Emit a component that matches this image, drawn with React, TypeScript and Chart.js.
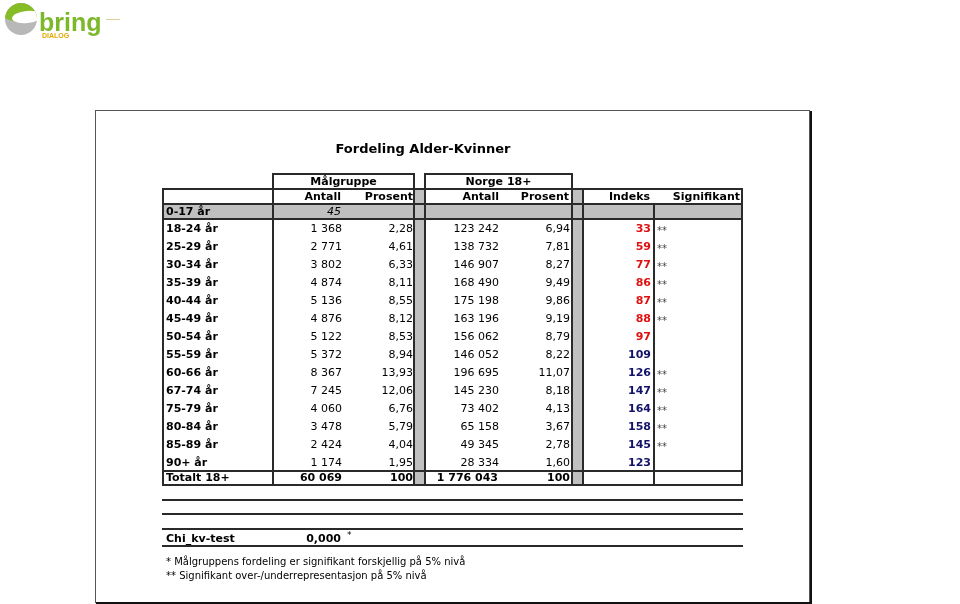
import React, { useEffect, useRef } from 'react';
import { Chart, registerables } from 'chart.js';

Chart.register(...registerables);

// ---------- data ----------
const TITLE = 'Fordeling Alder-Kvinner';
const GROUP_HEADERS = ['Målgruppe', 'Norge 18+'];
const COLUMN_HEADERS = ['Antall', 'Prosent', 'Antall', 'Prosent', 'Indeks', 'Signifikant'];
const AGE_GROUPS = ['18-24 år', '25-29 år', '30-34 år', '35-39 år', '40-44 år', '45-49 år', '50-54 år', '55-59 år', '60-66 år', '67-74 år', '75-79 år', '80-84 år', '85-89 år', '90+ år'];
const MAL_ANTALL = [1368, 2771, 3802, 4874, 5136, 4876, 5122, 5372, 8367, 7245, 4060, 3478, 2424, 1174];
const MAL_PROSENT = [2.28, 4.61, 6.33, 8.11, 8.55, 8.12, 8.53, 8.94, 13.93, 12.06, 6.76, 5.79, 4.04, 1.95];
const NORGE_ANTALL = [123242, 138732, 146907, 168490, 175198, 163196, 156062, 146052, 196695, 145230, 73402, 65158, 49345, 28334];
const NORGE_PROSENT = [6.94, 7.81, 8.27, 9.49, 9.86, 9.19, 8.79, 8.22, 11.07, 8.18, 4.13, 3.67, 2.78, 1.6];
const INDEKS = [33, 59, 77, 86, 87, 88, 97, 109, 126, 147, 164, 158, 145, 123];
const SIGNIFIKANT = [true, true, true, true, true, true, false, false, true, true, true, true, true, false];
const UNDER18_LABEL = '0-17 år';
const UNDER18_ANTALL = 45;
const TOTAL_LABEL = 'Totalt 18+';
const TOTAL_MAL = [60069, 100];
const TOTAL_NORGE = [1776043, 100];
const CHI_LABEL = 'Chi_kv-test';
const CHI_VALUE = 0.0;
const FOOTNOTES = [
  '* Målgruppens fordeling er signifikant forskjellig på 5% nivå',
  '** Signifikant over-/underrepresentasjon på 5% nivå',
];

// ---------- formatting ----------
const fmtInt = (n: number) => String(Math.round(n)).replace(/\B(?=(\d{3})+(?!\d))/g, ' ');
const fmtDec = (n: number, d = 2) => n.toFixed(d).replace('.', ',');

// ---------- layout / style ----------
const FONT = '"DejaVu Sans", Verdana, sans-serif';
const RED = '#e01010';
const NAVY = '#12126a';
const GRAY = '#c0c0c0';
const LINE = '#2a2a2a';

const COL_X = { label: 166, malAntall: 342, malProsent: 413, norgeAntall: 499, norgeProsent: 570, indeks: 651, sig: 657 };
const GRID = {
  left: 163, labelRight: 273, malRight: 414, norgeLeft: 425, norgeRight: 572, indeksLeft: 583, sigLeft: 654, right: 742,
  groupTop: 174, headTop: 189, grayTop: 204, grayBottom: 219, totalTop: 471, totalBottom: 485,
};
const EXTRA_LINES = [500, 514, 529, 546];

type CellCol = {
  label: string; x: number; texts: string[]; align: CanvasTextAlign; font: string;
  color: (i: number) => string; dy?: number; baseline?: CanvasTextBaseline;
};

const CELL_COLUMNS: CellCol[] = [
  { label: 'Alder', x: COL_X.label, texts: AGE_GROUPS, align: 'left', font: `bold 11px ${FONT}`, color: () => '#000' },
  { label: 'Målgruppe Antall', x: COL_X.malAntall, texts: MAL_ANTALL.map(fmtInt), align: 'right', font: `11px ${FONT}`, color: () => '#000' },
  { label: 'Målgruppe Prosent', x: COL_X.malProsent, texts: MAL_PROSENT.map((v) => fmtDec(v)), align: 'right', font: `11px ${FONT}`, color: () => '#000' },
  { label: 'Norge Antall', x: COL_X.norgeAntall, texts: NORGE_ANTALL.map(fmtInt), align: 'right', font: `11px ${FONT}`, color: () => '#000' },
  { label: 'Norge Prosent', x: COL_X.norgeProsent, texts: NORGE_PROSENT.map((v) => fmtDec(v)), align: 'right', font: `11px ${FONT}`, color: () => '#000' },
  { label: 'Indeks', x: COL_X.indeks, texts: INDEKS.map(String), align: 'right', font: `bold 11px ${FONT}`, color: (i) => (INDEKS[i] < 100 ? RED : NAVY) },
  { label: 'Signifikant', x: COL_X.sig, texts: SIGNIFIKANT.map((s) => (s ? '**' : '')), align: 'left', font: `10px ${FONT}`, color: () => '#444', dy: 4.5, baseline: 'alphabetic' },
];

function hline(ctx: CanvasRenderingContext2D, y: number, x1: number, x2: number, w = 2, c = LINE) {
  ctx.beginPath(); ctx.lineWidth = w; ctx.strokeStyle = c; ctx.moveTo(x1, y); ctx.lineTo(x2, y); ctx.stroke();
}
function vline(ctx: CanvasRenderingContext2D, x: number, y1: number, y2: number, w = 2, c = LINE) {
  ctx.beginPath(); ctx.lineWidth = w; ctx.strokeStyle = c; ctx.moveTo(x, y1); ctx.lineTo(x, y2); ctx.stroke();
}
function text(ctx: CanvasRenderingContext2D, s: string, x: number, y: number, font: string, align: CanvasTextAlign = 'left', color = '#000', baseline: CanvasTextBaseline = 'middle') {
  ctx.font = font; ctx.fillStyle = color; ctx.textAlign = align; ctx.textBaseline = baseline; ctx.fillText(s, x, y);
}

const tablePlugin = {
  id: 'tablePlugin',
  beforeDraw(chart: any) {
    const ctx: CanvasRenderingContext2D = chart.ctx;
    ctx.save();
    ctx.fillStyle = '#fff';
    ctx.fillRect(0, 0, chart.width, chart.height);

    // logo
    ctx.save();
    ctx.beginPath(); ctx.arc(21, 19, 16, 0, Math.PI * 2); ctx.fillStyle = '#b8b8b8'; ctx.fill();
    ctx.clip();
    ctx.beginPath(); ctx.ellipse(21, 9, 22, 13, 0, 0, Math.PI * 2); ctx.fillStyle = '#86bc25'; ctx.fill();
    ctx.beginPath(); ctx.ellipse(27, 17, 15, 6, -0.1, 0, Math.PI * 2); ctx.fillStyle = '#ffffff'; ctx.fill();
    ctx.restore();
    text(ctx, 'bring', 39, 31, `bold 25px "Liberation Sans", Arial, sans-serif`, 'left', '#7cb82a', 'alphabetic');
    text(ctx, 'DIALOG', 42, 38, `bold 7px "Liberation Sans", Arial, sans-serif`, 'left', '#e2a900', 'alphabetic');
    hline(ctx, 19.5, 106, 120, 1, '#d9cf9a');

    // outer frame
    ctx.beginPath(); ctx.lineWidth = 1; ctx.strokeStyle = '#555'; ctx.strokeRect(95.5, 110.5, 714, 492);
    vline(ctx, 811, 111, 604, 2, '#111');
    hline(ctx, 603, 96, 812, 2, '#111');

    // title
    text(ctx, TITLE, 423, 150, `bold 13px ${FONT}`, 'center');

    const yTop = chart.chartArea.top;
    // gray fills
    ctx.fillStyle = GRAY;
    ctx.fillRect(GRID.left, GRID.grayTop, GRID.right - GRID.left, GRID.grayBottom - GRID.grayTop);
    ctx.fillRect(GRID.malRight, GRID.headTop, GRID.norgeLeft - GRID.malRight, GRID.totalBottom - GRID.headTop);
    ctx.fillRect(GRID.norgeRight, GRID.headTop, GRID.indeksLeft - GRID.norgeRight, GRID.totalBottom - GRID.headTop);

    // horizontal lines
    hline(ctx, GRID.groupTop, GRID.labelRight - 1, GRID.malRight + 1);
    hline(ctx, GRID.groupTop, GRID.norgeLeft - 1, GRID.norgeRight + 1);
    hline(ctx, GRID.headTop, GRID.left - 1, GRID.right + 1);
    hline(ctx, GRID.grayTop, GRID.left - 1, GRID.right + 1);
    hline(ctx, yTop, GRID.left - 1, GRID.right + 1);
    hline(ctx, GRID.totalTop, GRID.left - 1, GRID.right + 1);
    hline(ctx, GRID.totalBottom, GRID.left - 1, GRID.right + 1);
    EXTRA_LINES.forEach((y) => hline(ctx, y, GRID.left - 1, GRID.right + 1));

    // vertical lines
    vline(ctx, GRID.left, GRID.headTop, GRID.totalBottom);
    vline(ctx, GRID.labelRight, GRID.groupTop, GRID.totalBottom);
    vline(ctx, GRID.malRight, GRID.groupTop, GRID.totalBottom);
    vline(ctx, GRID.norgeLeft, GRID.groupTop, GRID.totalBottom);
    vline(ctx, GRID.norgeRight, GRID.groupTop, GRID.totalBottom);
    vline(ctx, GRID.indeksLeft, GRID.headTop, GRID.totalBottom);
    vline(ctx, GRID.sigLeft, GRID.grayTop, GRID.totalBottom);
    vline(ctx, GRID.right, GRID.headTop, GRID.totalBottom);

    // headers
    const bold = `bold 11px ${FONT}`;
    text(ctx, GROUP_HEADERS[0], (GRID.labelRight + GRID.malRight) / 2, 182, bold, 'center');
    text(ctx, GROUP_HEADERS[1], (GRID.norgeLeft + GRID.norgeRight) / 2, 182, bold, 'center');
    const headX = [COL_X.malAntall - 1, COL_X.malProsent, COL_X.norgeAntall, COL_X.norgeProsent - 1, COL_X.indeks - 1, 740];
    COLUMN_HEADERS.forEach((h, i) => text(ctx, h, headX[i], 197, bold, 'right'));

    // 0-17 row
    text(ctx, UNDER18_LABEL, COL_X.label, 212, bold);
    text(ctx, String(UNDER18_ANTALL), COL_X.malAntall - 1, 212, `italic 11px ${FONT}`, 'right');

    // total row
    text(ctx, TOTAL_LABEL, COL_X.label, 478.5, bold);
    text(ctx, fmtInt(TOTAL_MAL[0]), COL_X.malAntall, 478.5, bold, 'right');
    text(ctx, fmtInt(TOTAL_MAL[1]), COL_X.malProsent, 478.5, bold, 'right');
    text(ctx, fmtInt(TOTAL_NORGE[0]), COL_X.norgeAntall - 1, 478.5, bold, 'right');
    text(ctx, fmtInt(TOTAL_NORGE[1]), COL_X.norgeProsent, 478.5, bold, 'right');

    // chi test
    text(ctx, CHI_LABEL, COL_X.label, 539, bold);
    text(ctx, fmtDec(CHI_VALUE, 3), 341, 539, bold, 'right');
    text(ctx, '*', 347, 538, `9px ${FONT}`, 'left', '#000', 'alphabetic');

    // footnotes
    FOOTNOTES.forEach((f, i) => text(ctx, f, COL_X.label, 562 + i * 14, `10px ${FONT}`));
    ctx.restore();
  },
  afterDatasetsDraw(chart: any) {
    const ctx: CanvasRenderingContext2D = chart.ctx;
    ctx.save();
    chart.data.datasets.forEach((ds: any, di: number) => {
      const col: CellCol = ds.cell;
      const meta = chart.getDatasetMeta(di);
      meta.data.forEach((pt: any, i: number) => {
        const s = col.texts[i];
        if (!s) return;
        text(ctx, s, pt.x, pt.y + 1 + (col.dy || 0), col.font, col.align, col.color(i), col.baseline || 'middle');
      });
    });
    ctx.restore();
  },
};

export default function App() {
  const ref = useRef<HTMLCanvasElement>(null);
  useEffect(() => {
    document.body.style.margin = '0';
    document.body.style.overflow = 'hidden';
    const canvas = ref.current!;
    const chart = new Chart(canvas, {
      type: 'scatter',
      data: {
        datasets: CELL_COLUMNS.map((c) => ({
          label: c.label,
          data: AGE_GROUPS.map((g) => ({ x: c.x, y: g })),
          pointRadius: 0,
          pointHoverRadius: 0,
          showLine: false,
          cell: c,
        })) as any,
      },
      options: {
        animation: false,
        responsive: false,
        devicePixelRatio: 1,
        events: [],
        layout: { padding: { top: GRID.grayBottom, bottom: 604 - GRID.totalTop, left: 0, right: 0 } },
        scales: {
          x: { type: 'linear', min: 0, max: 960, display: false },
          y: { type: 'category', labels: AGE_GROUPS, offset: true, display: false } as any,
        },
        plugins: { legend: { display: false }, tooltip: { enabled: false }, title: { display: false } },
      },
      plugins: [tablePlugin],
    });
    return () => chart.destroy();
  }, []);
  return (
    <div style={{ width: 960, height: 604, overflow: 'hidden', background: '#fff' }}>
      <canvas ref={ref} width={960} height={604} style={{ display: 'block', width: 960, height: 604 }} />
    </div>
  );
}
